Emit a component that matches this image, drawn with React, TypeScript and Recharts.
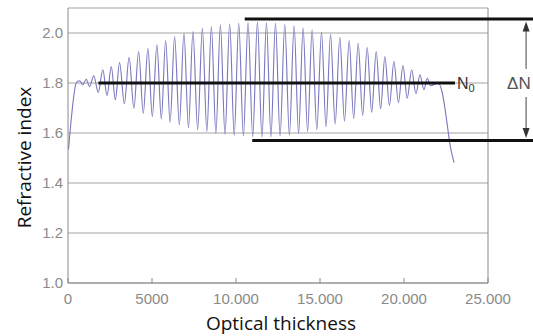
import React from 'react';
import {
  LineChart,
  Line,
  XAxis,
  YAxis,
  CartesianGrid,
  ReferenceLine,
  ReferenceDot
} from 'recharts';

// rise at the start of the stack
const startThickness = [30, 209, 489];
const startIndex = [1.534, 1.666, 1.8];

// local maxima of the rugate profile
const peakThickness = [
  685, 1085, 1538, 2074, 2575, 3069, 3636, 4202, 4756, 5292,
  5811, 6345, 6902, 7438, 7998, 8535, 9071, 9625, 10162, 10716,
  11276, 11813, 12349, 12903, 13458, 13994, 14530, 15091, 15627, 16181,
  16736, 17272, 17808, 18345, 18863, 19400, 19936, 20455, 20949, 21384
];
const peakIndex = [
  1.809, 1.815, 1.829, 1.853, 1.866, 1.882, 1.903, 1.926, 1.939, 1.953,
  1.97, 1.986, 1.999, 2.006, 2.019, 2.026, 2.033, 2.037, 2.04, 2.043,
  2.046, 2.042, 2.04, 2.035, 2.029, 2.021, 2.013, 2.004, 1.995, 1.983,
  1.97, 1.959, 1.942, 1.926, 1.906, 1.886, 1.87, 1.853, 1.833, 1.819
];

// local minima
const troughThickness = [
  882, 1281, 1800, 2324, 2819, 3355, 3922, 4482, 5018, 5555,
  6079, 6628, 7170, 7718, 8267, 8803, 9345, 9894, 10442, 10996,
  11545, 12081, 12623, 13178, 13726, 14262, 14811, 15359, 15901, 16456,
  17004, 17540, 18077, 18607, 19132, 19668, 20192, 20711, 21188, 21587
];
const troughIndex = [
  1.793, 1.786, 1.762, 1.749, 1.733, 1.717, 1.699, 1.679, 1.666, 1.656,
  1.642, 1.633, 1.621, 1.613, 1.606, 1.599, 1.594, 1.59, 1.588, 1.585,
  1.583, 1.585, 1.588, 1.592, 1.598, 1.605, 1.613, 1.625, 1.636, 1.647,
  1.658, 1.67, 1.683, 1.697, 1.71, 1.722, 1.739, 1.757, 1.773, 1.789
];

// drop at the end
const tailThickness = [22022, 22261, 22440, 22588, 22737, 22976];
const tailIndex = [1.8, 1.766, 1.698, 1.626, 1.554, 1.482];

const xTicks = [0, 5000, 10000, 15000, 20000, 25000];
const xTickLabels = ['0', '5000', '10.000', '15.000', '20.000', '25.000'];
const yTicks = [1.0, 1.2, 1.4, 1.6, 1.8, 2.0];
const yTickLabels = ['1.0', '1.2', '1.4', '1.6', '1.8', '2.0'];

// annotation levels (N0 and the ΔN band)
const meanIndex = 1.8;
const highIndex = 2.056;
const lowIndex = 1.57;
const meanLineFrom = 1806;
const meanLineTo = 23035;
const highLineFrom = 10520;
const lowLineFrom = 10966;
const bandLineTo = 27700;
const arrowAt = 27267;

const zip = (xs: number[], ys: number[]) => xs.map((x, i) => ({ x, n: ys[i] }));
const data = [
  ...zip(startThickness, startIndex),
  ...zip(peakThickness, peakIndex),
  ...zip(troughThickness, troughIndex),
  ...zip(tailThickness, tailIndex)
].sort((a, b) => a.x - b.x);

const GRAY = '#8a8a8a';
const TICK_FONT = '"Liberation Sans", Arial, sans-serif';
const TITLE_FONT = '"Open Sans", "Noto Sans", sans-serif';
const X_TICK_MARGIN = 10;

const XTick = (props: any) => {
  const { x, y, payload } = props;
  const axisY = y - X_TICK_MARGIN;
  const label = xTickLabels[xTicks.indexOf(payload.value)];
  return (
    <g>
      <line x1={x} x2={x} y1={axisY} y2={axisY - 5} stroke={GRAY} />
      <text x={x} y={y} dy="0.71em" textAnchor="middle" fill={GRAY} fontSize={15} fontFamily={TICK_FONT}>
        {label}
      </text>
    </g>
  );
};

const YTitle = (props: any) => {
  const vb = props.viewBox;
  const cx = vb.x + 31;
  const cy = vb.y + vb.height / 2 + 12;
  return (
    <text x={cx} y={cy} transform={`rotate(-90, ${cx}, ${cy})`} textAnchor="middle" fill="#111" fontSize={19} fontFamily={TITLE_FONT}>
      Refractive index
    </text>
  );
};

const XTitle = (props: any) => {
  const vb = props.viewBox;
  return (
    <text x={vb.x + vb.width / 2 + 3} y={vb.y + 47} textAnchor="middle" fill="#111" fontSize={19} fontFamily={TITLE_FONT}>
      Optical thickness
    </text>
  );
};

const arrowUp = (p: any) => (
  <path d={`M${p.cx},${p.cy} L${p.cx - 3.5},${p.cy + 10} L${p.cx + 3.5},${p.cy + 10} Z`} fill="#333" />
);
const arrowDown = (p: any) => (
  <path d={`M${p.cx},${p.cy} L${p.cx - 3.5},${p.cy - 10} L${p.cx + 3.5},${p.cy - 10} Z`} fill="#333" />
);
const meanLabel = (p: any) => (
  <text x={p.cx + 2} y={p.cy} dy="0.36em" fill="#333" fontSize={16} fontFamily={TICK_FONT}>
    N<tspan fontSize={11} dy={3}>0</tspan>
  </text>
);
const deltaLabel = (p: any) => (
  <text x={p.cx - 19} y={p.cy} dy="0.36em" fill="#555" fontSize={17} fontFamily={TICK_FONT}>
    ΔN
  </text>
);

export default function App() {
  return (
    <div style={{ position: 'absolute', left: 0, top: 0, background: '#fff' }}>
      <LineChart width={533} height={336} data={data} margin={{ top: 8, right: 45, left: 0, bottom: 0 }}>
        <CartesianGrid vertical={false} stroke="#a3a3a3" />
        <XAxis
          type="number"
          dataKey="x"
          domain={[0, 25000]}
          ticks={xTicks}
          interval={0}
          allowDataOverflow
          height={53}
          tickLine={false}
          tickSize={0}
          tickMargin={X_TICK_MARGIN}
          axisLine={{ stroke: GRAY }}
          tick={<XTick />}
          label={{ content: <XTitle /> }}
        />
        <YAxis
          type="number"
          domain={[1.0, 2.1]}
          ticks={yTicks}
          interval={0}
          allowDataOverflow
          width={68}
          tickLine={false}
          tickSize={0}
          tickMargin={5}
          axisLine={{ stroke: GRAY }}
          tick={{ fill: GRAY, fontSize: 15, fontFamily: TICK_FONT }}
          tickFormatter={(v: number) => yTickLabels[yTicks.indexOf(v)] ?? String(v)}
          label={{ content: <YTitle /> }}
        />
        <ReferenceLine x={25000} stroke={GRAY} />
        <Line
          type="monotone"
          dataKey="n"
          stroke="#7a7abf"
          strokeWidth={1.15}
          dot={false}
          isAnimationActive={false}
        />
        <ReferenceLine
          segment={[{ x: meanLineFrom, y: meanIndex }, { x: meanLineTo, y: meanIndex }]}
          stroke="#111"
          strokeWidth={3}
          ifOverflow="visible"
        />
        <ReferenceLine
          segment={[{ x: highLineFrom, y: highIndex }, { x: bandLineTo, y: highIndex }]}
          stroke="#111"
          strokeWidth={3}
          ifOverflow="visible"
        />
        <ReferenceLine
          segment={[{ x: lowLineFrom, y: lowIndex }, { x: bandLineTo, y: lowIndex }]}
          stroke="#111"
          strokeWidth={3}
          ifOverflow="visible"
        />
        <ReferenceLine
          segment={[{ x: arrowAt, y: 2.02 }, { x: arrowAt, y: 1.856 }]}
          stroke="#444"
          ifOverflow="visible"
        />
        <ReferenceLine
          segment={[{ x: arrowAt, y: 1.744 }, { x: arrowAt, y: 1.61 }]}
          stroke="#444"
          ifOverflow="visible"
        />
        <ReferenceDot x={arrowAt} y={highIndex - 0.01} ifOverflow="visible" shape={arrowUp} />
        <ReferenceDot x={arrowAt} y={lowIndex + 0.01} ifOverflow="visible" shape={arrowDown} />
        <ReferenceDot x={meanLineTo} y={meanIndex} ifOverflow="visible" shape={meanLabel} />
        <ReferenceDot x={arrowAt} y={meanIndex} ifOverflow="visible" shape={deltaLabel} />
      </LineChart>
    </div>
  );
}
